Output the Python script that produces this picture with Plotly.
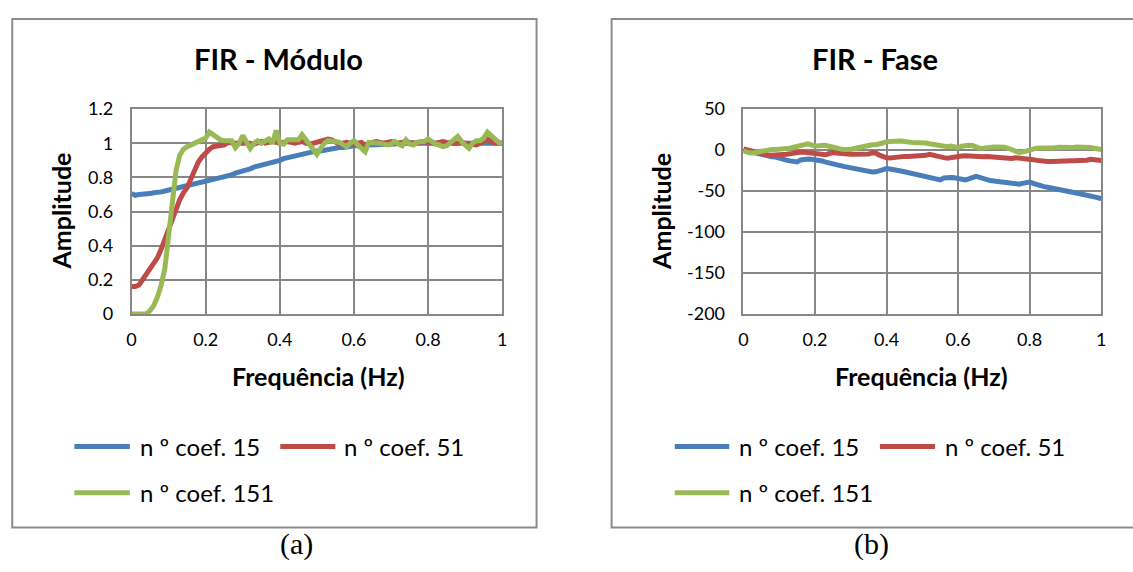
import plotly.graph_objects as go

W, H = 1133, 572

# Frequency grid (Hz), shared by every series
freq = [round(i * 0.01, 2) for i in range(101)]

# Magnitude response for each filter length
mod_15 = [
    0.705, 0.695, 0.700, 0.700, 0.700, 0.705, 0.710, 0.710, 0.715, 0.720,
    0.725, 0.730, 0.735, 0.740, 0.745, 0.750, 0.755, 0.760, 0.765, 0.770,
    0.775, 0.780, 0.785, 0.790, 0.795, 0.800, 0.810, 0.815, 0.825, 0.830,
    0.835, 0.845, 0.850, 0.860, 0.865, 0.875, 0.880, 0.885, 0.890, 0.895,
    0.900, 0.910, 0.915, 0.925, 0.930, 0.935, 0.940, 0.945, 0.945, 0.950,
    0.955, 0.955, 0.960, 0.965, 0.965, 0.970, 0.975, 0.975, 0.980, 0.980,
    0.985, 0.985, 0.990, 0.990, 0.990, 0.990, 0.995, 0.995, 0.995, 0.995,
    0.995, 0.995, 1.000, 1.000, 1.000, 1.000, 1.000, 1.000, 1.000, 1.000,
    1.000, 1.000, 1.000, 1.000, 1.000, 1.000, 1.000, 1.000, 1.000, 1.000,
    1.000, 1.000, 1.000, 1.000, 1.000, 1.000, 1.000, 1.000, 1.000, 1.000,
    1.000,
]
mod_51 = [
    0.160, 0.160, 0.170, 0.200, 0.230, 0.270, 0.300, 0.330, 0.380, 0.440,
    0.490, 0.550, 0.610, 0.670, 0.710, 0.740, 0.790, 0.850, 0.890, 0.920,
    0.945, 0.965, 0.980, 0.985, 0.985, 0.990, 1.005, 1.000, 1.000, 1.000,
    1.000, 1.005, 1.000, 0.995, 1.005, 1.010, 1.000, 1.005, 1.010, 1.005,
    1.000, 1.005, 1.010, 1.005, 1.000, 1.005, 1.010, 1.000, 0.995, 1.000,
    1.005, 1.010, 1.015, 1.025, 1.020, 1.005, 0.995, 1.000, 1.005, 1.000,
    0.995, 1.000, 1.005, 0.990, 1.000, 1.005, 1.010, 1.005, 1.000, 1.005,
    1.010, 1.005, 1.000, 1.005, 1.010, 1.005, 1.000, 1.000, 1.005, 1.010,
    1.005, 1.000, 1.000, 1.005, 1.010, 1.005, 1.000, 1.000, 1.000, 1.005,
    1.000, 0.995, 0.995, 0.990, 1.000, 1.015, 1.025, 1.010, 1.000, 1.005,
    1.000,
]
mod_151 = [
    0.000, 0.000, 0.000, 0.000, 0.000, 0.020, 0.050, 0.100, 0.170, 0.270,
    0.450, 0.660, 0.840, 0.930, 0.965, 0.980, 0.990, 1.000, 1.010, 1.020,
    1.030, 1.065, 1.050, 1.035, 1.020, 1.015, 1.015, 1.015, 0.975, 1.000,
    1.045, 1.000, 0.970, 1.000, 1.015, 1.000, 1.010, 1.025, 1.000, 1.075,
    1.000, 0.995, 1.020, 1.020, 1.015, 1.020, 1.050, 1.020, 1.000, 0.965,
    0.935, 0.970, 1.000, 1.015, 1.015, 1.010, 1.005, 0.990, 0.980, 1.000,
    1.015, 0.990, 0.965, 0.950, 1.005, 1.005, 1.000, 1.000, 0.995, 0.990,
    0.995, 1.010, 0.995, 0.985, 1.020, 0.995, 0.990, 1.005, 1.010, 1.010,
    1.025, 1.005, 0.995, 0.990, 0.980, 0.985, 1.005, 1.025, 1.040, 1.010,
    0.985, 0.970, 1.000, 1.015, 1.015, 1.030, 1.065, 1.045, 1.025, 1.005,
    1.000,
]

# Phase response for each filter length
fase_15 = [
    0.0, -1.2, -2.4, -3.6, -4.8, -5.8, -6.8, -7.7, -8.1, -8.6,
    -9.3, -10.8, -12.2, -13.2, -14.2, -14.4, -12.0, -10.8, -11.0, -11.3,
    -11.6, -12.3, -13.3, -14.7, -16.0, -17.2, -18.2, -19.0, -19.9, -20.8,
    -21.6, -22.6, -23.6, -24.5, -25.5, -26.6, -26.8, -26.5, -25.0, -22.6,
    -22.6, -23.1, -23.5, -24.4, -25.5, -26.4, -27.4, -28.4, -29.5, -30.6,
    -31.6, -32.7, -33.8, -34.8, -35.8, -36.4, -34.0, -33.2, -33.5, -33.8,
    -34.3, -35.5, -36.5, -35.2, -33.5, -32.2, -33.4, -35.0, -36.4, -37.2,
    -37.7, -38.2, -38.9, -39.8, -40.6, -41.4, -41.6, -41.6, -40.6, -39.4,
    -39.0, -40.6, -42.3, -43.8, -44.6, -45.3, -46.0, -46.8, -47.6, -48.5,
    -49.3, -50.4, -51.4, -52.4, -53.3, -54.0, -54.7, -55.6, -56.9, -58.1,
    -59.5,
]
fase_51 = [
    1.5, 1.0, -0.8, -2.0, -3.3, -4.8, -6.0, -6.2, -6.2, -6.2,
    -6.0, -5.6, -5.2, -4.6, -3.6, -2.5, -2.4, -2.7, -3.0, -3.3,
    -3.6, -4.3, -5.5, -5.7, -4.2, -3.1, -3.6, -4.2, -4.8, -5.0,
    -5.0, -5.0, -5.0, -5.2, -5.3, -4.8, -3.3, -3.6, -6.2, -8.2,
    -9.5, -9.8, -9.0, -8.1, -7.7, -7.7, -7.7, -7.7, -7.7, -7.7,
    -7.4, -6.4, -5.3, -5.9, -6.8, -7.8, -9.2, -9.9, -9.0, -8.1,
    -7.6, -7.3, -7.0, -7.4, -8.1, -8.8, -8.6, -8.2, -7.9, -8.2,
    -9.0, -9.7, -10.1, -10.4, -10.7, -10.2, -9.4, -9.6, -10.0, -10.4,
    -10.9, -11.7, -12.6, -13.5, -13.9, -13.9, -13.9, -13.9, -13.9, -13.9,
    -13.9, -13.9, -13.9, -13.9, -13.9, -13.6, -12.4, -11.1, -11.2, -12.0,
    -12.7,
]
fase_151 = [
    -1.2, -2.4, -3.6, -3.2, -2.1, -1.2, -0.4, 0.4, 0.8, 0.8,
    0.9, 1.3, 1.7, 2.4, 3.4, 4.4, 5.5, 6.6, 7.7, 6.4,
    5.0, 5.2, 6.0, 5.9, 4.6, 3.2, 2.2, 1.5, 0.7, 0.1,
    0.8, 2.0, 2.9, 4.4, 5.8, 6.5, 6.5, 6.5, 7.1, 8.6,
    10.2, 10.6, 10.8, 11.0, 11.1, 10.4, 9.4, 8.6, 8.8, 9.0,
    9.1, 8.6, 7.7, 7.0, 6.5, 5.5, 4.6, 4.0, 5.0, 4.2,
    2.9, 4.6, 6.0, 5.9, 5.5, 3.7, 2.0, 2.4, 3.4, 3.9,
    3.9, 3.9, 3.9, 3.6, 2.2, 0.5, -1.3, -3.0, -2.4, -1.3,
    0.4, 2.0, 2.3, 2.6, 2.6, 2.0, 1.6, 2.5, 3.5, 3.3,
    2.7, 2.4, 3.0, 3.6, 3.9, 3.9, 3.9, 3.3, 2.3, 1.5,
    0.8,
]

series_names = ["n º coef. 15", "n º coef. 51", "n º coef. 151"]
series_colors = ["#4A7EBB", "#BE4B48", "#98B954"]

x_tickvals = [0, 0.2, 0.4, 0.6, 0.8, 1]
x_ticktext = ["0", "0.2", "0.4", "0.6", "0.8", "1"]
mod_tickvals = [0, 0.2, 0.4, 0.6, 0.8, 1, 1.2]
mod_ticktext = ["0", "0.2", "0.4", "0.6", "0.8", "1", "1.2"]
fase_tickvals = [-200, -150, -100, -50, 0, 50]
fase_ticktext = ["-200", "-150", "-100", "-50", "0", "50"]

FONT = "Lato, 'Open Sans', sans-serif"
SERIF = "'Liberation Serif', 'Times New Roman', serif"
GRID = "#878787"
FRAME = "#8c8c8c"


# Pixel position -> paper fraction
def px(x):
    return x / W


def py(y):
    return 1 - y / H


fig = go.Figure()

for vals, name, color in zip([mod_15, mod_51, mod_151], series_names, series_colors):
    fig.add_trace(go.Scatter(x=freq, y=vals, mode="lines", name=name,
                             line=dict(color=color, width=5),
                             xaxis="x", yaxis="y", showlegend=False))
for vals, name, color in zip([fase_15, fase_51, fase_151], series_names, series_colors):
    fig.add_trace(go.Scatter(x=freq, y=vals, mode="lines", name=name,
                             line=dict(color=color, width=5),
                             xaxis="x2", yaxis="y2", showlegend=False))

axis_common = dict(
    showgrid=True, gridcolor=GRID, gridwidth=1.5,
    showline=True, mirror=True, linecolor=GRID, linewidth=1.5,
    zeroline=False, ticks="", layer="below traces",
    tickfont=dict(family=FONT, size=18, color="#000000"),
    fixedrange=True,
)

plot_top, plot_bottom = 101, 314
left_plot = (127.7, 501.7)
right_plot = (745, 1106)

fig.update_layout(
    width=W, height=H, autosize=False,
    margin=dict(l=0, r=0, t=0, b=0, pad=0),
    paper_bgcolor="white", plot_bgcolor="white",
    xaxis=dict(domain=[px(left_plot[0]), px(left_plot[1])], range=[0, 1],
               tickmode="array", tickvals=x_tickvals, ticktext=x_ticktext,
               ticklabelstandoff=9, anchor="y", **axis_common),
    yaxis=dict(domain=[py(plot_bottom), py(plot_top)], range=[0, 1.2],
               tickmode="array", tickvals=mod_tickvals, ticktext=mod_ticktext,
               ticklabelstandoff=13, anchor="x", **axis_common),
    xaxis2=dict(domain=[px(right_plot[0]), px(right_plot[1])], range=[0, 1],
                tickmode="array", tickvals=x_tickvals, ticktext=x_ticktext,
                ticklabelstandoff=9, anchor="y2", **axis_common),
    yaxis2=dict(domain=[py(plot_bottom), py(plot_top)], range=[-200, 50],
                tickmode="array", tickvals=fase_tickvals, ticktext=fase_ticktext,
                ticklabelstandoff=13, anchor="x2", **axis_common),
)

# Chart frames
shapes = [
    dict(type="rect", xref="paper", yref="paper",
         x0=px(7.3), x1=px(536.3), y0=py(536), y1=py(7.3),
         line=dict(color=FRAME, width=2), fillcolor="rgba(0,0,0,0)", layer="below"),
    dict(type="rect", xref="paper", yref="paper",
         x0=px(612), x1=px(1150), y0=py(536), y1=py(7.3),
         line=dict(color=FRAME, width=2), fillcolor="rgba(0,0,0,0)", layer="below"),
]

annotations = []


def text(x, y, s, size, bold=False, family=FONT, xanchor="center", angle=0):
    annotations.append(dict(
        xref="paper", yref="paper", x=px(x), y=py(y),
        text=f"<b>{s}</b>" if bold else s, showarrow=False,
        xanchor=xanchor, yanchor="middle", textangle=angle,
        font=dict(family=family, size=size, color="#000000"),
    ))


# Titles
text(276, 48, "FIR - Módulo", 29, bold=True)
text(878, 48, "FIR - Fase", 29, bold=True)
# Axis titles
text(57, 207, "Amplitude", 25, bold=True, angle=-90)
text(661.7, 207, "Amplitude", 25, bold=True, angle=-90)
text(316, 379, "Frequência (Hz)", 25, bold=True)
text(925, 379, "Frequência (Hz)", 25, bold=True)
# Panel captions
text(294, 553, "(a)", 30, family=SERIF)
text(874, 553, "(b)", 30, family=SERIF)

# Legends (line key + label), one block per chart
legend_slots = {
    "left": [(70, 126, 134, 452), (277.7, 333.3, 340.5, 452), (70, 126, 134, 500)],
    "right": [(675.7, 730.7, 738.5, 452), (882.7, 938.3, 946, 452), (675.7, 730.7, 738.5, 500)],
}
for slots in legend_slots.values():
    for (lx0, lx1, tx, ly), name, color in zip(slots, series_names, series_colors):
        shapes.append(dict(type="line", xref="paper", yref="paper",
                           x0=px(lx0), x1=px(lx1), y0=py(ly), y1=py(ly),
                           line=dict(color=color, width=5)))
        text(tx, ly, name, 24, xanchor="left")

fig.update_layout(shapes=shapes, annotations=annotations)

fig.write_html("out.html")
